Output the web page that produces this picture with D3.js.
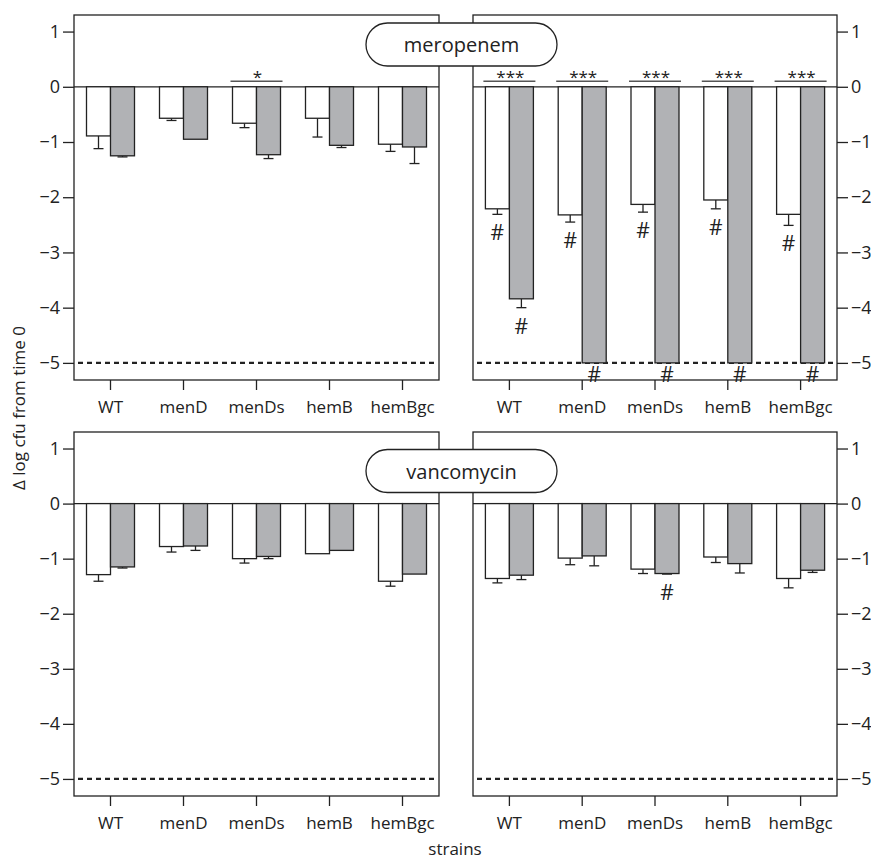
<!DOCTYPE html>
<html>
<head>
<meta charset="utf-8">
<script src="https://cdn.jsdelivr.net/npm/d3@7"></script>
<style>
body { margin: 0; background: #fff; }
text { font-family: "Open Sans", sans-serif; fill: #222; }
</style>
</head>
<body>
<div id="chart"></div>
<script>
var strains = ["WT", "menD", "menDs", "hemB", "hemBgc"];
var yTicks = [1, 0, -1, -2, -3, -4, -5];

// meropenem, left panel
var meroAWhite = [-0.89, -0.57, -0.66, -0.57, -1.04];
var meroAWhiteErr = [0.23, 0.04, 0.08, 0.34, 0.13];
var meroAGray = [-1.25, -0.95, -1.23, -1.06, -1.09];
var meroAGrayErr = [0.02, 0, 0.07, 0.04, 0.30];
var meroASig = ["", "", "*", "", ""];

// meropenem, right panel
var meroBWhite = [-2.21, -2.32, -2.13, -2.05, -2.31];
var meroBWhiteErr = [0.10, 0.13, 0.14, 0.16, 0.20];
var meroBGray = [-3.84, -5, -5, -5, -5];
var meroBGrayErr = [0.16, 0, 0, 0, 0];
var meroBSig = ["***", "***", "***", "***", "***"];
var meroBWhiteHash = [true, true, true, true, true];
var meroBGrayHash = [true, true, true, true, true];

// vancomycin, left panel
var vancoAWhite = [-1.29, -0.78, -1.00, -0.91, -1.41];
var vancoAWhiteErr = [0.12, 0.10, 0.08, 0, 0.09];
var vancoAGray = [-1.15, -0.77, -0.96, -0.85, -1.28];
var vancoAGrayErr = [0.02, 0.08, 0.04, 0, 0];

// vancomycin, right panel
var vancoBWhite = [-1.36, -0.99, -1.19, -0.97, -1.36];
var vancoBWhiteErr = [0.08, 0.12, 0.08, 0.10, 0.17];
var vancoBGray = [-1.30, -0.95, -1.27, -1.09, -1.21];
var vancoBGrayErr = [0.08, 0.18, 0.01, 0.17, 0.04];
var vancoBGrayHash = [false, false, true, false, false];

var floorValue = -5;

function drawPanel(svg, p) {
	var x = d3.scaleBand().domain(strains).range([p.x0, p.x1]).padding(0);
	var y = d3.scaleLinear().domain([-5.31, 1.30]).range([p.y1, p.y0]);
	var bw = 24;
	var g = svg.append("g");

	// zero line and detection limit
	g.append("line")
		.attr("x1", p.x0).attr("x2", p.x1)
		.attr("y1", y(0)).attr("y2", y(0))
		.attr("stroke", "#222").attr("stroke-width", 1.3);
	g.append("line")
		.attr("x1", p.x0 + 4).attr("x2", p.x1 - 2)
		.attr("y1", y(floorValue)).attr("y2", y(floorValue))
		.attr("stroke", "#222").attr("stroke-width", 2.2)
		.attr("stroke-dasharray", "5,4");

	var series = [
		{vals: p.white, err: p.whiteErr, hash: p.whiteHash, fill: "#fff", off: -bw},
		{vals: p.gray, err: p.grayErr, hash: p.grayHash, fill: "#b1b2b5", off: 0}
	];

	series.forEach(function(s){
		var items = s.vals.map(function(v, i){
			return {v: v, e: s.err[i], h: s.hash ? s.hash[i] : false,
				cx: x(strains[i]) + x.bandwidth() / 2 + s.off + bw / 2};
		});
		var withErr = items.filter(function(d){ return d.e > 0; });

		// error bars (downwards only)
		g.selectAll(null)
			.data(withErr)
			.enter()
			.append("line")
			.attr("x1", function(d){ return d.cx; })
			.attr("x2", function(d){ return d.cx; })
			.attr("y1", function(d){ return y(d.v); })
			.attr("y2", function(d){ return y(d.v - d.e); })
			.attr("stroke", "#222").attr("stroke-width", 1.3);
		g.selectAll(null)
			.data(withErr)
			.enter()
			.append("line")
			.attr("x1", function(d){ return d.cx - 5; })
			.attr("x2", function(d){ return d.cx + 5; })
			.attr("y1", function(d){ return y(d.v - d.e); })
			.attr("y2", function(d){ return y(d.v - d.e); })
			.attr("stroke", "#222").attr("stroke-width", 1.3);

		g.selectAll(null)
			.data(items)
			.enter()
			.append("rect")
			.attr("x", function(d){ return d.cx - bw / 2; })
			.attr("y", y(0))
			.attr("width", bw)
			.attr("height", function(d){ return y(d.v) - y(0); })
			.attr("fill", s.fill)
			.attr("stroke", "#222")
			.attr("stroke-width", 1.3);

		g.selectAll(null)
			.data(items.filter(function(d){ return d.h; }))
			.enter()
			.append("text")
			.attr("x", function(d){ return d.cx; })
			.attr("y", function(d){
				if (d.v <= floorValue) return y(floorValue) + 11;
				return y(d.v - d.e) + 18;
			})
			.attr("text-anchor", "middle")
			.attr("dominant-baseline", "central")
			.style("font-size", "21px")
			.text("#");
	});

	// significance marks
	if (p.sig) {
		strains.forEach(function(st, i){
			if (!p.sig[i]) return;
			var c = x(st) + x.bandwidth() / 2;
			g.append("line")
				.attr("x1", c - 26).attr("x2", c + 26)
				.attr("y1", y(0.1)).attr("y2", y(0.1))
				.attr("stroke", "#555").attr("stroke-width", 1.5);
			g.append("text")
				.attr("x", c + 1)
				.attr("y", y(0.1) + 2)
				.attr("text-anchor", "middle")
				.style("font-size", "17px")
				.text(p.sig[i]);
		});
	}

	// frame
	g.append("rect")
		.attr("x", p.x0).attr("y", p.y0)
		.attr("width", p.x1 - p.x0).attr("height", p.y1 - p.y0)
		.attr("fill", "none").attr("stroke", "#222").attr("stroke-width", 1.3);

	var yAxis = p.side == "left" ? d3.axisLeft(y) : d3.axisRight(y);
	yAxis.tickValues(yTicks).tickSize(11).tickPadding(3).tickFormat(d3.format("d"));
	var ya = g.append("g")
		.attr("transform", "translate(" + (p.side == "left" ? p.x0 : p.x1) + ",0)")
		.call(yAxis);
	ya.select(".domain").remove();
	ya.selectAll("line").attr("stroke", "#222").attr("stroke-width", 1.3);
	ya.selectAll("text").style("font-size", "18px").style("font-family", "Open Sans").attr("fill", "#222");

	var xa = g.append("g")
		.attr("transform", "translate(0," + p.y1 + ")")
		.call(d3.axisBottom(x).tickSize(10).tickPadding(11));
	xa.select(".domain").remove();
	xa.selectAll("line").attr("stroke", "#222").attr("stroke-width", 1.3);
	xa.selectAll("text").style("font-size", "17px").style("font-family", "Open Sans").attr("fill", "#222");
}

function pill(svg, cy, label) {
	svg.append("rect")
		.attr("x", 366).attr("y", cy - 21.5)
		.attr("width", 191).attr("height", 43)
		.attr("rx", 21.5)
		.attr("fill", "#fff").attr("stroke", "#222").attr("stroke-width", 1.3);
	svg.append("text")
		.attr("x", 461.5).attr("y", cy)
		.attr("text-anchor", "middle")
		.attr("dominant-baseline", "central")
		.style("font-size", "20px")
		.text(label);
}

function init(){
	var svg = d3.select("#chart")
		.append("svg")
		.attr("width", 871)
		.attr("height", 860);

	drawPanel(svg, {x0: 74, x1: 439, y0: 15, y1: 380, side: "left",
		white: meroAWhite, whiteErr: meroAWhiteErr, gray: meroAGray, grayErr: meroAGrayErr, sig: meroASig});
	drawPanel(svg, {x0: 473, x1: 837, y0: 15, y1: 380, side: "right",
		white: meroBWhite, whiteErr: meroBWhiteErr, gray: meroBGray, grayErr: meroBGrayErr, sig: meroBSig,
		whiteHash: meroBWhiteHash, grayHash: meroBGrayHash});
	drawPanel(svg, {x0: 74, x1: 439, y0: 432, y1: 796, side: "left",
		white: vancoAWhite, whiteErr: vancoAWhiteErr, gray: vancoAGray, grayErr: vancoAGrayErr});
	drawPanel(svg, {x0: 473, x1: 837, y0: 432, y1: 796, side: "right",
		white: vancoBWhite, whiteErr: vancoBWhiteErr, gray: vancoBGray, grayErr: vancoBGrayErr,
		grayHash: vancoBGrayHash});

	pill(svg, 44.5, "meropenem");
	pill(svg, 471, "vancomycin");

	svg.append("text")
		.attr("transform", "translate(25,408) rotate(-90)")
		.attr("text-anchor", "middle")
		.style("font-size", "17px")
		.text("Δ log cfu from time 0");

	svg.append("text")
		.attr("x", 455).attr("y", 855)
		.attr("text-anchor", "middle")
		.style("font-size", "17px")
		.text("strains");
}

window.onload = init;
</script>
</body>
</html>
